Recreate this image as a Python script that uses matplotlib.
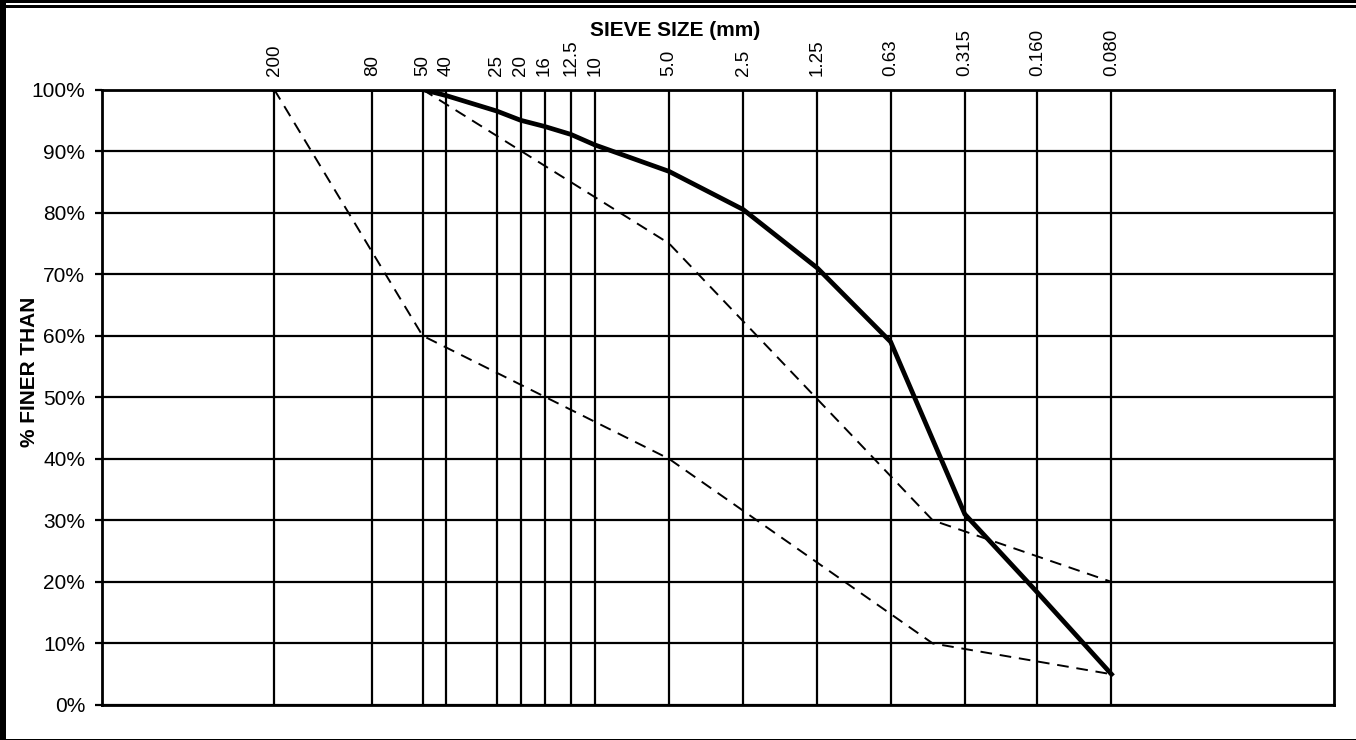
import matplotlib
matplotlib.use("Agg")
import matplotlib.pyplot as plt
from matplotlib.patches import Rectangle
from matplotlib.ticker import FixedLocator, NullLocator

plt.rcParams['font.family'] = ['Liberation Sans', 'DejaVu Sans']

# --- data -------------------------------------------------------------
sieve_sizes = [200, 80, 50, 40, 25, 20, 16, 12.5, 10, 5.0, 2.5, 1.25, 0.63, 0.315, 0.160, 0.080]
sieve_labels = ["200", "80", "50", "40", "25", "20", "16", "12.5", "10", "5.0",
                "2.5", "1.25", "0.63", "0.315", "0.160", "0.080"]

sample_sizes = [200, 80, 50, 40, 25, 20, 16, 12.5, 10, 5.0, 2.5, 1.25, 0.63, 0.315, 0.160, 0.080]
sample_pass = [100, 100, 100, 99, 96.5, 95, 94, 92.7, 91, 86.7, 80.5, 71, 59, 31, 18.3, 5]

upper_sizes = [50, 5.0, 0.425, 0.080]
upper_pass = [100, 75, 30, 20]

lower_sizes = [200, 50, 5.0, 0.425, 0.080]
lower_pass = [100, 60, 40, 10, 5]

y_ticks = [0, 10, 20, 30, 40, 50, 60, 70, 80, 90, 100]
y_labels = [f"{v}%" for v in y_ticks]

# --- figure -----------------------------------------------------------
W, H = 1356, 740
fig = plt.figure(figsize=(W / 100, H / 100), dpi=100)
fig.patch.set_facecolor("white")

ax = fig.add_axes([102 / W, (H - 705) / H, (1334 - 102) / W, (705 - 89.5) / H])
ax.set_xscale("log")
ax.set_xlim(1000, 0.01)
ax.set_ylim(0, 100)

# grid
for s in sieve_sizes:
    ax.axvline(s, color="black", lw=1.6, zorder=1)
for v in y_ticks:
    ax.axhline(v, color="black", lw=1.6, zorder=1)

# curves
ax.plot(lower_sizes, lower_pass, color="black", lw=1.4, dashes=(6, 4), zorder=3)
ax.plot(upper_sizes, upper_pass, color="black", lw=1.4, dashes=(6, 4), zorder=3)
ax.plot(sample_sizes, sample_pass, color="black", lw=3.4, zorder=4, solid_joinstyle="miter")

# x ticks on top
ax.xaxis.set_major_locator(FixedLocator(sieve_sizes))
ax.xaxis.set_minor_locator(NullLocator())
ax.set_xticklabels(sieve_labels)
ax.xaxis.tick_top()
ax.tick_params(axis="x", which="both", top=True, bottom=False, length=0, pad=10,
               labelsize=13.5, labelrotation=90)

# y ticks
ax.set_yticks(y_ticks)
ax.set_yticklabels(y_labels)
ax.tick_params(axis="y", length=5, width=1.6, pad=7, labelsize=15, direction="out")

for sp in ax.spines.values():
    sp.set_linewidth(2)

# titles
fig.text(675 / W, 1 - 31 / H, "SIEVE SIZE (mm)", ha="center", va="center",
         fontsize=15, fontweight="bold")
fig.text(30 / W, 1 - 372 / H, "% FINER THAN", ha="center", va="center",
         rotation=90, fontsize=15, fontweight="bold")

# frame decorations
def px_rect(x0, y0, x1, y1):
    fig.patches.append(Rectangle((x0 / W, 1 - y1 / H), (x1 - x0) / W, (y1 - y0) / H,
                                 transform=fig.transFigure, facecolor="black",
                                 edgecolor="none", zorder=10))

px_rect(0, 0, W, 3)
px_rect(0, 4.5, W, 7.5)
px_rect(0, 0, 6, H)
px_rect(0, 738.5, W, H)

fig.savefig("out.png", dpi=100)
